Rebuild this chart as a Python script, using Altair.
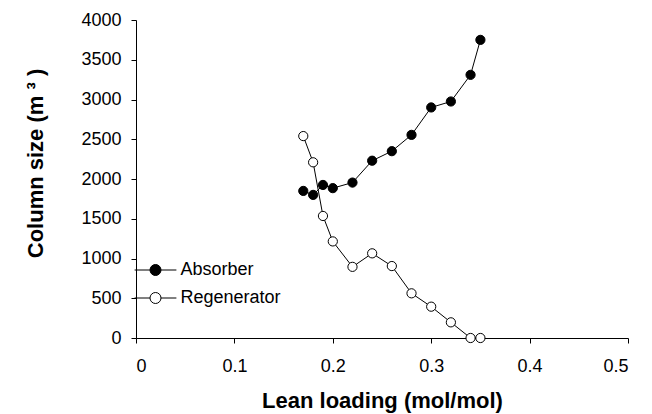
import altair as alt
import pandas as pd

loading = [0.17, 0.18, 0.19, 0.20, 0.22, 0.24, 0.26, 0.28, 0.30, 0.32, 0.34, 0.35]
absorber = [1850, 1800, 1925, 1885, 1955, 2230, 2350, 2555, 2900, 2975, 3310, 3750]
regenerator = [2540, 2210, 1535, 1215, 895, 1065, 905, 562, 394, 197, 0, 0]
series = ["Absorber", "Regenerator"]
x_ticks = [0, 0.1, 0.2, 0.3, 0.4, 0.5]
y_ticks = [0, 500, 1000, 1500, 2000, 2500, 3000, 3500, 4000]

rows = []
for name, vals in zip(series, [absorber, regenerator]):
    for xv, yv in zip(loading, vals):
        rows.append({"loading": xv, "size": yv, "series": name})
df = pd.DataFrame(rows)

FONT = "Liberation Sans"

x_enc = alt.X("loading:Q",
              scale=alt.Scale(domain=[0, 0.5], nice=False, zero=False),
              axis=alt.Axis(values=x_ticks, format="~g", title="Lean loading (mol/mol)",
                            labelPadding=14, titlePadding=15))
y_enc = alt.Y("size:Q",
              scale=alt.Scale(domain=[0, 4000], nice=False),
              axis=alt.Axis(values=y_ticks, format="d", title="Column size (m \u00b3 )",
                            labelPadding=10, titlePadding=33, titleY=143))

base = alt.Chart(df)
lines = base.mark_line(color="black", strokeWidth=1).encode(
    x=x_enc, y=y_enc, detail="series:N", order="loading:Q")

sym = "M-3.8,0L-1,0M1,0L3.8,0M1,0A1,1,0,1,1,-1,0A1,1,0,1,1,1,0Z"
points = base.mark_circle(size=85, stroke="black", strokeWidth=1, opacity=1).encode(
    x=x_enc, y=y_enc,
    fill=alt.Fill("series:N",
                  scale=alt.Scale(domain=series, range=["black", "white"]),
                  legend=alt.Legend(title=None, orient="none", legendX=10.5, legendY=241,
                                    symbolType=sym, symbolSize=121,
                                    symbolStrokeColor="black", symbolStrokeWidth=1,
                                    symbolOpacity=1,
                                    labelFont=FONT, labelFontSize=18, labelColor="black",
                                    labelOffset=16, rowPadding=10, padding=0)))

chart = alt.layer(lines, points).properties(
    width=492, height=318,
    autosize=alt.AutoSizeParams(type="none"),
    padding={"left": 136, "top": 20, "right": 24, "bottom": 76},
).configure_view(stroke=None).configure_axis(
    grid=False, domainColor="black", tickColor="black", tickSize=5,
    labelFont=FONT, labelFontSize=18, labelColor="black",
    titleFont=FONT, titleFontSize=22, titleFontWeight="bold", titleColor="black",
)

chart.save("out.html", embed_options={"renderer": "svg", "actions": False})
